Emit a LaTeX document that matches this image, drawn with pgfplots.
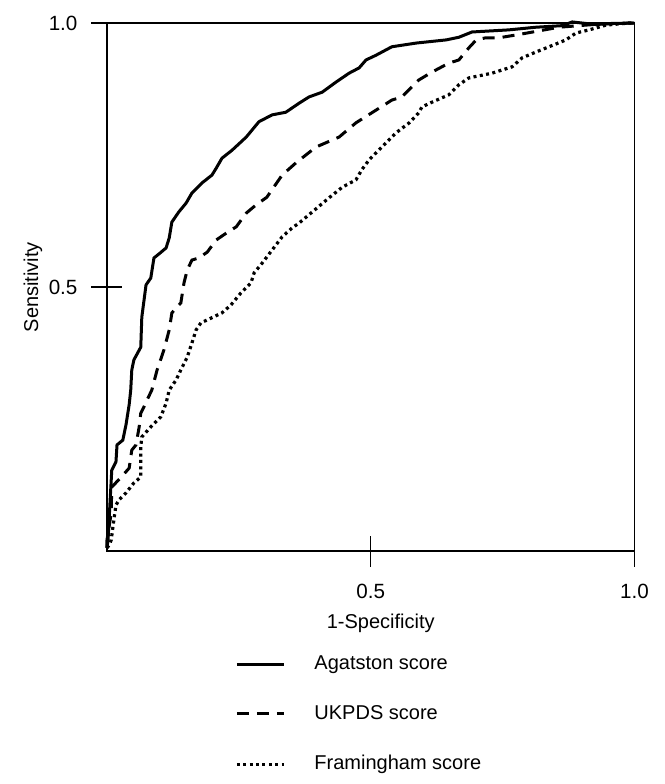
\documentclass[border=0pt]{standalone}
\usepackage{fontspec}
\setmainfont{Liberation Sans}
\usepackage{pgfplots}
\pgfplotsset{compat=1.18}

% ROC curves, values
\pgfplotstableread{
x y
0 0.006
0.002 0.021
0.004 0.059
0.006 0.097
0.008 0.134
0.009 0.153
0.017 0.169
0.019 0.201
0.030 0.210
0.036 0.239
0.042 0.277
0.045 0.305
0.047 0.343
0.051 0.362
0.064 0.386
0.066 0.443
0.074 0.504
0.083 0.517
0.089 0.555
0.099 0.563
0.112 0.574
0.118 0.593
0.123 0.623
0.136 0.642
0.150 0.659
0.161 0.678
0.180 0.697
0.199 0.712
0.207 0.725
0.218 0.744
0.237 0.759
0.264 0.784
0.288 0.813
0.313 0.826
0.339 0.831
0.364 0.848
0.383 0.860
0.408 0.869
0.434 0.888
0.459 0.905
0.478 0.915
0.491 0.930
0.510 0.939
0.540 0.955
0.586 0.962
0.643 0.968
0.667 0.973
0.692 0.983
0.762 0.987
0.813 0.992
0.863 0.995
0.882 1.002
0.900 1.0
0.927 0.997
0.952 0.999
1.0 1.0
}\agatston

\pgfplotstableread{
x y
0 0.006
0 0.021
0.008 0.072
0.009 0.121
0.027 0.140
0.042 0.157
0.047 0.191
0.055 0.201
0.061 0.235
0.064 0.261
0.070 0.273
0.076 0.286
0.085 0.305
0.095 0.343
0.108 0.381
0.118 0.419
0.123 0.451
0.140 0.470
0.146 0.508
0.152 0.532
0.161 0.551
0.174 0.555
0.190 0.566
0.207 0.589
0.226 0.602
0.245 0.614
0.264 0.640
0.282 0.655
0.303 0.670
0.332 0.712
0.358 0.735
0.396 0.765
0.440 0.784
0.472 0.811
0.510 0.835
0.540 0.854
0.559 0.860
0.578 0.879
0.591 0.892
0.616 0.907
0.648 0.924
0.667 0.930
0.686 0.953
0.700 0.968
0.718 0.972
0.743 0.972
0.785 0.979
0.857 0.992
0.933 0.998
1.0 1.0
}\ukpds

\pgfplotstableread{
x y
0 0.006
0.004 0.011
0.008 0.021
0.013 0.059
0.017 0.087
0.023 0.097
0.036 0.110
0.051 0.129
0.064 0.140
0.064 0.197
0.066 0.216
0.083 0.235
0.102 0.254
0.112 0.280
0.118 0.305
0.131 0.324
0.140 0.343
0.152 0.367
0.161 0.394
0.169 0.419
0.178 0.432
0.197 0.441
0.218 0.451
0.235 0.466
0.254 0.489
0.273 0.508
0.279 0.527
0.294 0.545
0.313 0.570
0.332 0.595
0.351 0.612
0.364 0.621
0.421 0.669
0.446 0.689
0.472 0.703
0.483 0.722
0.497 0.741
0.521 0.765
0.548 0.792
0.573 0.811
0.591 0.830
0.597 0.841
0.616 0.850
0.648 0.864
0.667 0.883
0.686 0.896
0.730 0.905
0.768 0.917
0.787 0.934
0.813 0.945
0.838 0.955
0.870 0.968
0.889 0.981
0.914 0.987
0.946 0.996
0.990 1.0
1.0 1.0
}\framingham

\begin{document}
\begin{tikzpicture}
\useasboundingbox (-53.5pt,-116.5pt) rectangle (279pt,275.5pt);
\begin{axis}[
    scale only axis,
    width=263.75pt, height=264pt,
    xmin=0, xmax=1, ymin=0, ymax=1,
    clip=false,
    axis line style={line width=0.7pt},
    xtick={0.5,1}, ytick={0.5,1},
    xticklabels={0.5,1.0}, yticklabels={0.5,1.0},
    xtick pos=left, ytick pos=left,
    tick align=center,
    major tick length=15.5pt,
    tick style={line width=0.6pt, black},
    /pgf/number format/assume math mode=true,
    tick label style={font=\fontsize{10.3}{12}\selectfont},
    xticklabel style={yshift=-5.5pt},
    yticklabel style={xshift=-3.5pt},
    xlabel={1-Specificity}, ylabel={Sensitivity},
    label style={font=\fontsize{10}{12}\selectfont},
    xlabel style={at={(rel axis cs:0.5,0)}, anchor=base, xshift=5pt, yshift=-38.5pt},
    ylabel style={at={(rel axis cs:0,0.5)}, anchor=center, yshift=37pt},
    legend style={at={(rel axis cs:0.231,-0.19)}, anchor=north west, draw=none,
        font=\fontsize{10}{12}\selectfont, row sep=16.5pt, column sep=14.5pt,
        nodes={inner sep=0pt}},
    legend cell align=left,
    legend image code/.code={\draw[#1] (0pt,0pt) -- (23.5pt,0pt);},
]
\addplot[black, line width=1.5pt] table[x=x, y=y] {\agatston};
\addplot[black, line width=1.5pt, dash pattern=on 6pt off 4pt] table[x=x, y=y] {\ukpds};
\addplot[black, line width=1.6pt, dash pattern=on 1.5pt off 1.7pt] table[x=x, y=y] {\framingham};
\legend{Agatston score, UKPDS score, Framingham score}
\end{axis}
\end{tikzpicture}
\end{document}
